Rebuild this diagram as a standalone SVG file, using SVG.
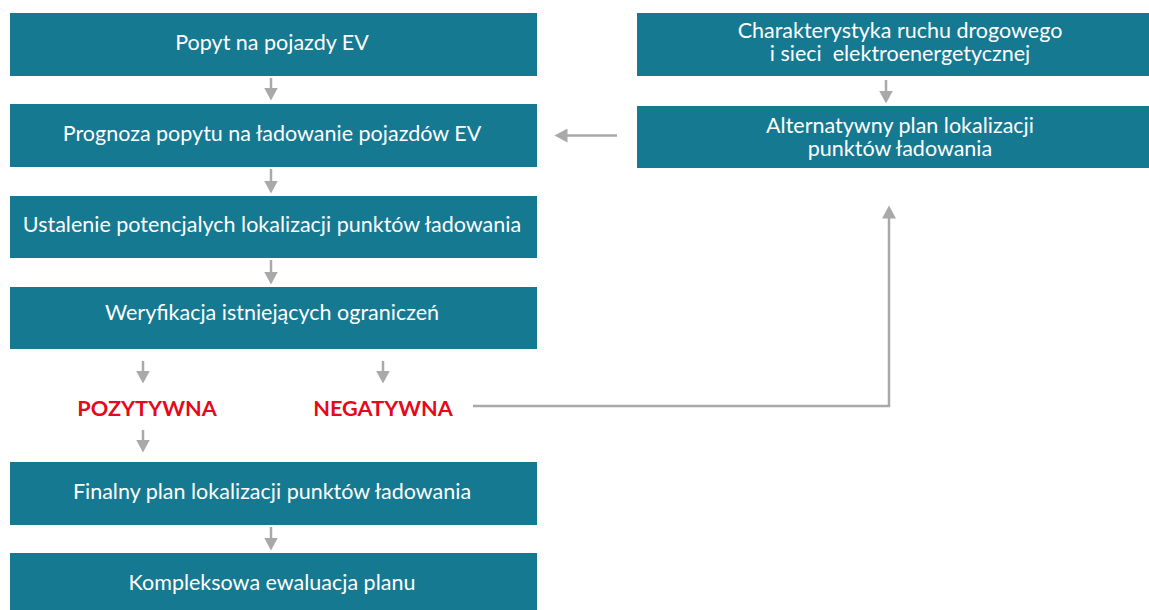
<svg xmlns="http://www.w3.org/2000/svg" width="1149" height="610" viewBox="0 0 1149 610">
<defs>
<style>
.box{fill:#157992}
.t{font-family:Lato,"Open Sans","Liberation Sans",sans-serif;font-size:21.5px;fill:#ffffff;text-anchor:middle}
.r{font-family:Lato,"Open Sans","Liberation Sans",sans-serif;font-size:21.7px;font-weight:bold;fill:#e30a1c;text-anchor:middle}
.c{stroke:#a9a9a9;stroke-width:2.5;fill:none}
</style>
<marker id="ah" markerUnits="userSpaceOnUse" markerWidth="14" markerHeight="14" viewBox="0 0 14 14" refX="0.5" refY="7" orient="auto">
<path d="M0,0 L13,7 L0,14 z" fill="#a9a9a9"/>
</marker>
</defs>
<rect width="1149" height="610" fill="#ffffff"/>
<g id="n1"><rect class="box" x="10" y="13" width="527" height="63"/><text class="t" x="272" y="50">Popyt na pojazdy EV</text></g>
<g id="n2"><rect class="box" x="10" y="104" width="527" height="63"/><text class="t" x="272" y="141">Prognoza popytu na ładowanie pojazdów EV</text></g>
<g id="n3"><rect class="box" x="10" y="196" width="527" height="62"/><text class="t" x="272" y="232">Ustalenie potencjalych lokalizacji punktów ładowania</text></g>
<g id="n4"><rect class="box" x="10" y="287" width="527" height="62"/><text class="t" x="272" y="320">Weryfikacja istniejących ograniczeń</text></g>
<g id="n5"><text class="r" x="147" y="415.5">POZYTYWNA</text></g>
<g id="n6"><text class="r" x="383" y="415.5">NEGATYWNA</text></g>
<g id="n7"><rect class="box" x="10" y="462" width="527" height="63"/><text class="t" x="272" y="499">Finalny plan lokalizacji punktów ładowania</text></g>
<g id="n8"><rect class="box" x="10" y="553" width="527" height="62"/><text class="t" x="272" y="590">Kompleksowa ewaluacja planu</text></g>
<g id="n9"><rect class="box" x="637" y="13" width="527" height="63"/><text class="t" x="900" y="38">Charakterystyka ruchu drogowego</text><text class="t" x="900" y="61" xml:space="preserve">i sieci  elektroenergetycznej</text></g>
<g id="n10"><rect class="box" x="637" y="106" width="527" height="62"/><text class="t" x="900" y="133">Alternatywny plan lokalizacji</text><text class="t" x="900" y="156">punktów ładowania</text></g>
<g id="connectors">
<line class="c" x1="271" y1="78" x2="271" y2="88" marker-end="url(#ah)"/>
<line class="c" x1="271" y1="169" x2="271" y2="181" marker-end="url(#ah)"/>
<line class="c" x1="271" y1="260" x2="271" y2="272" marker-end="url(#ah)"/>
<line class="c" x1="143" y1="361" x2="143" y2="371" marker-end="url(#ah)"/>
<line class="c" x1="383" y1="361" x2="383" y2="371" marker-end="url(#ah)"/>
<line class="c" x1="143" y1="430" x2="143" y2="440" marker-end="url(#ah)"/>
<line class="c" x1="271" y1="527" x2="271" y2="538" marker-end="url(#ah)"/>
<line class="c" x1="886" y1="80" x2="886" y2="91" marker-end="url(#ah)"/>
<line class="c" x1="617" y1="135.5" x2="567" y2="135.5" marker-end="url(#ah)"/>
<path class="c" d="M473,406 H889 V218" marker-end="url(#ah)"/>
</g>
</svg>
